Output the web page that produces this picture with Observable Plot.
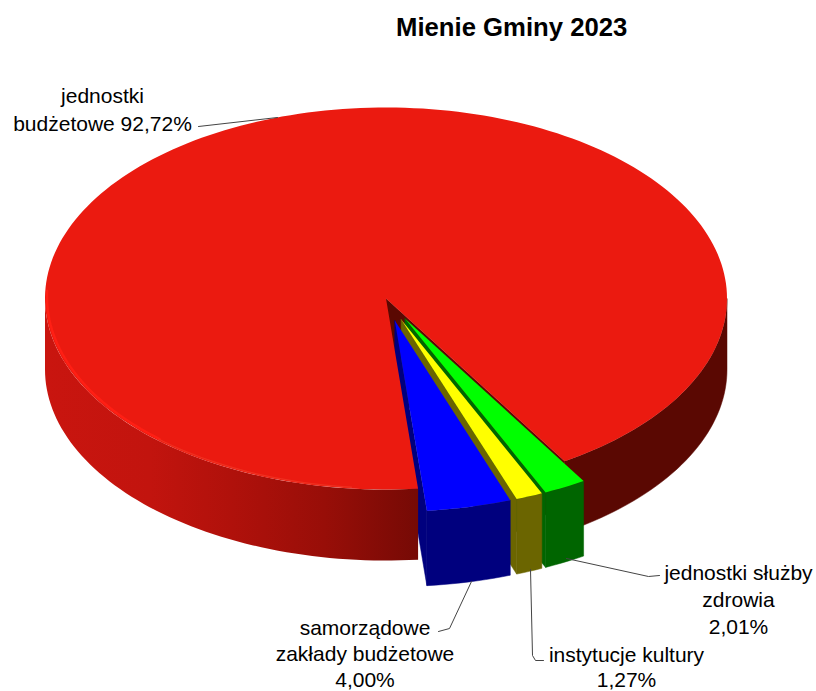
<!DOCTYPE html>
<html><head><meta charset="utf-8">
<script src="https://cdn.jsdelivr.net/npm/d3@7"></script>
<script src="https://cdn.jsdelivr.net/npm/@observablehq/plot@0.6"></script>
<style>
html,body{margin:0;padding:0;background:#fff}
#title{height:60px;width:816px;position:relative;font:bold 25.7px "Liberation Sans",Arial,sans-serif;color:#000}
#title span{position:absolute;left:396px;top:13px;white-space:nowrap}
</style></head><body>
<div id="title"><span>Mienie Gminy 2023</span></div>
<div id="chart"></div>
<script>
const titleHeight = 60;
// Data
const categories = ["samorządowe zakłady budżetowe","instytucje kultury","jednostki służby zdrowia","jednostki budżetowe"];
const shares = [4.00,1.27,2.01,92.72];
const labels = ["samorządowe\nzakłady budżetowe\n4,00%","instytucje kultury\n1,27%","jednostki służby\nzdrowia\n2,01%","jednostki\nbudżetowe 92,72%"];
const topColors = ["#0000ff","#ffff00","#00ff00","#eb1a10"];
const wallColors = ["#00007e","#6b6500","#006500","#5a0802"];

// Layout of the projected pie
const cx=385.5, cy=298, rx=341, ry=191, depth=71, wallDepth=75, explode=0.118;
const startDeg=5.4; // clockwise-on-screen from the bottom of the ellipse
const rad=d=>d*Math.PI/180;
const pt=(deg,ox=0,oy=0)=>[cx+ox+rx*Math.sin(rad(deg)), cy+oy+ry*Math.cos(rad(deg))];
const arc=(a,b,ox=0,oy=0,n=Math.max(2,Math.ceil(Math.abs(b-a)/1.5)))=>d3.range(n+1).map(i=>pt(a+(b-a)*i/n,ox,oy));

let acc=startDeg;
const slices=categories.map((c,i)=>{const a=acc,b=acc+shares[i]*3.6;acc=b;const mid=rad((a+b)/2);
  const ex=i<3?explode:0;
  return {a,b,ox:ex*rx*Math.sin(mid),oy:ex*ry*Math.cos(mid),top:topColors[i],wall:wallColors[i]};});
const [blue,yellow,green,red]=slices;

const poly=(pts,fill,sw=0.5)=>Plot.line([...pts,pts[0]],{x:d=>d[0],y:d=>d[1],fill,stroke:sw?fill:"none",strokeWidth:sw,curve:"linear"});
const path=(pts,o)=>Plot.line(pts,{x:d=>d[0],y:d=>d[1],...o});
const down=(p,d)=>[p[0],p[1]+d];
const wallOuter=(a,b,ox,oy,d)=>{const t=arc(a,b,ox,oy);return [...t,...t.slice().reverse().map(p=>down(p,d))];};
const apex=s=>[cx+s.ox,cy+s.oy];
const sector=s=>[apex(s),...arc(s.a,s.b,s.ox,s.oy)];
// wall of a radial cut, hanging from the line apex -> rim point at angle deg
const cutWall=(s,deg,d)=>{const A=apex(s),C=pt(deg,s.ox,s.oy);return [A,C,down(C,d),down(A,d)];};

const defs=()=>{const ns="http://www.w3.org/2000/svg";
  const dd=document.createElementNS(ns,"defs");
  dd.innerHTML=`<linearGradient id="wallL" x1="0" x2="1" y1="0" y2="0">
   <stop offset="0" stop-color="#c9150f"/><stop offset="0.28" stop-color="#c2140e"/>
   <stop offset="0.5" stop-color="#b0110b"/><stop offset="0.75" stop-color="#980e08"/>
   <stop offset="1" stop-color="#760a05"/></linearGradient>`;
  return dd;};

const lead={stroke:"#444",strokeWidth:1};
const txt={textAnchor:"middle",fontSize:21,fill:"#000",text:d=>d};
const marks=[
  defs,
  // far side first: the large slice's right wall and its right cut
  poly(wallOuter(red.a,90,0,0,depth),red.wall),
  poly(cutWall(red,red.a,depth),red.wall),
  // exploded slices' walls, right to left
  poly(cutWall(green,green.a,wallDepth),green.wall),
  poly(wallOuter(green.a,green.b,green.ox,green.oy,wallDepth),green.wall),
  poly(cutWall(yellow,yellow.a,wallDepth),yellow.wall),
  poly(wallOuter(yellow.a,yellow.b,yellow.ox,yellow.oy,wallDepth),yellow.wall),
  poly(cutWall(blue,blue.a,wallDepth),blue.wall),
  poly(wallOuter(blue.a,blue.b,blue.ox,blue.oy,wallDepth),blue.wall),
  // large slice's left wall and top occlude the blue cut wall
  poly(wallOuter(red.b-360,-90,0,0,depth),"url(#wallL)",0),
  poly(sector(red),red.top,0),
  // bright rim on the lit edge of the top face
  path(arc(-92,-42,2,-1.2),{stroke:"#ff1f14",strokeWidth:2.4}),
  path(arc(-42,-6,1,-1.2),{stroke:"#ef3020",strokeWidth:1.3}),
  // exploded slices' tops
  poly(sector(blue),blue.top,0),
  poly(sector(yellow),yellow.top,0),
  poly(sector(green),green.top,0),
  // leaders
  path([[198,126],[277,117]],lead),
  path([[471,581],[449,628],[438,631]],lead),
  path([[530,569],[532,655],[535,660],[543,660]],lead),
  path([[566,558],[648,576],[659,575]],lead),
  // labels
  Plot.text([labels[3]],{x:[102],y:[108],lineHeight:1.33,...txt}),
  Plot.text([labels[0]],{x:[364.5],y:[652.5],lineHeight:1.24,...txt}),
  Plot.text([labels[1]],{x:[626],y:[666],lineHeight:1.2,...txt}),
  Plot.text([labels[2]],{x:[738],y:[598],lineHeight:1.28,...txt})
];
const chart=Plot.plot({width:816,height:691-titleHeight,margin:0,
  x:{type:"linear",domain:[0,816],range:[0,816],axis:null},
  y:{type:"linear",domain:[titleHeight,691],range:[0,691-titleHeight],axis:null},
  style:{fontFamily:'"Liberation Sans",Arial,sans-serif',background:"#fff"},
  marks});
document.getElementById("chart").appendChild(chart);
</script></body></html>
